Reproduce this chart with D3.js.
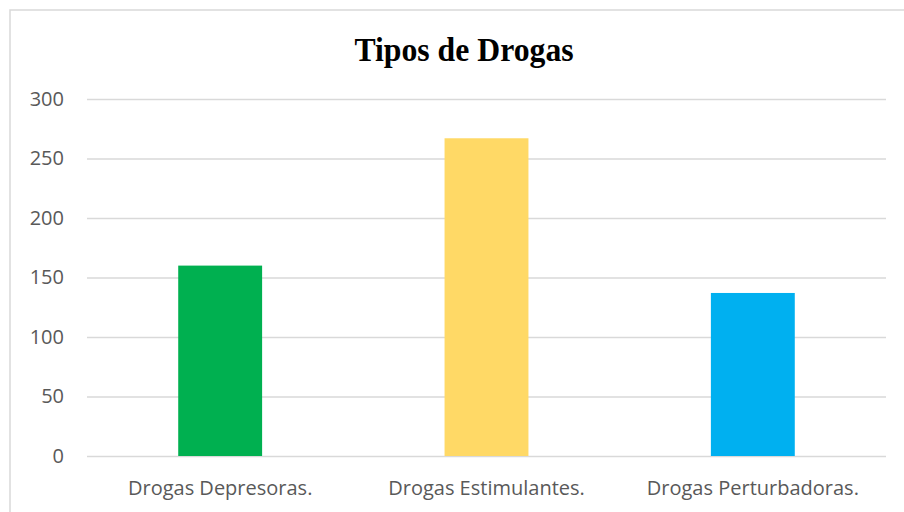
<!DOCTYPE html>
<html>
<head>
<meta charset="utf-8">
<script src="https://cdn.jsdelivr.net/npm/d3@7"></script>
<style>
  html, body { margin: 0; padding: 0; background: #ffffff; }
  svg { display: block; }
</style>
</head>
<body>
<svg id="chart" width="904" height="512"></svg>
<script>
const categories = ["Drogas Depresoras.", "Drogas Estimulantes.", "Drogas Perturbadoras."];
const values = [160, 267, 137];
const colors = ["#00B050", "#FFD966", "#00B0F0"];
const yTicks = [0, 50, 100, 150, 200, 250, 300];
const title = "Tipos de Drogas";

const svg = d3.select("#chart");
const W = 904, H = 512;
const margin = { left: 87, right: 18, top: 99, bottom: 56 };

// chart frame
svg.append("rect")
  .attr("x", 10).attr("y", 10)
  .attr("width", W + 10).attr("height", H + 10)
  .attr("fill", "#ffffff")
  .attr("stroke", "#d9d9d9").attr("stroke-width", 1.5);

const x = d3.scaleBand()
  .domain(categories)
  .range([margin.left, W - margin.right])
  .paddingInner(0.685)
  .paddingOuter(0.3425);

const y = d3.scaleLinear()
  .domain([0, 300])
  .range([H - margin.bottom, margin.top]);

// gridlines
const grid = svg.append("g")
  .attr("transform", `translate(${margin.left},0)`)
  .call(d3.axisLeft(y).tickValues(yTicks).tickSize(-(W - margin.right - margin.left)).tickFormat(""));
grid.select(".domain").remove();
grid.selectAll("line").attr("stroke", "#d9d9d9").attr("stroke-width", 1.5);

// y tick labels
const yAxis = svg.append("g")
  .attr("transform", `translate(${margin.left - 23},0)`)
  .call(d3.axisLeft(y).tickValues(yTicks).tickSize(0).tickPadding(0));
yAxis.select(".domain").remove();
yAxis.selectAll("text")
  .attr("fill", "#595959")
  .style("font-family", "'Open Sans', sans-serif")
  .style("font-size", "20px")
  .attr("text-anchor", "end");

// bars
svg.append("g").selectAll("rect")
  .data(values)
  .join("rect")
  .attr("x", (d, i) => x(categories[i]))
  .attr("width", x.bandwidth())
  .attr("y", d => y(d))
  .attr("height", d => y(0) - y(d))
  .attr("fill", (d, i) => colors[i]);

// x labels
const xAxis = svg.append("g")
  .attr("transform", `translate(0,${H - margin.bottom})`)
  .call(d3.axisBottom(x).tickSize(0).tickPadding(25));
xAxis.select(".domain").remove();
xAxis.selectAll("text")
  .attr("fill", "#595959")
  .style("font-family", "'Open Sans', sans-serif")
  .style("font-size", "20px");

// title (Times-like bold, slightly condensed)
svg.append("text")
  .attr("transform", "translate(464,61) scale(0.934,1)")
  .attr("text-anchor", "middle")
  .style("font-family", "'Liberation Serif', 'Times New Roman', serif")
  .style("font-weight", "bold")
  .style("font-size", "34px")
  .attr("fill", "#000000")
  .text(title);
</script>
</body>
</html>
